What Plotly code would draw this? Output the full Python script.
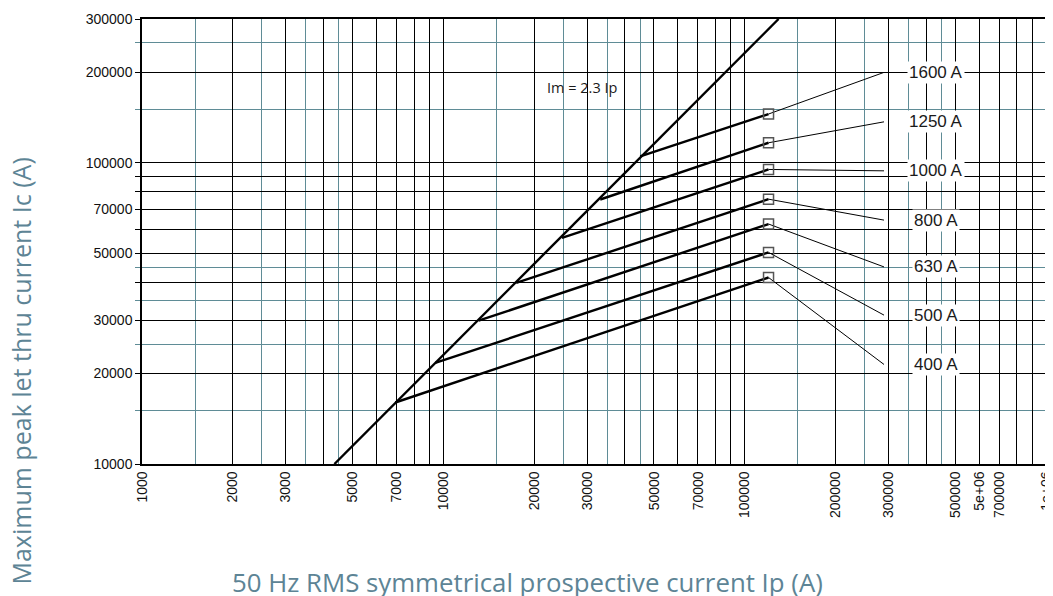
import plotly.graph_objects as go
import math

# ---- data ----
ratings = ["400 A", "500 A", "630 A", "800 A", "1000 A", "1250 A", "1600 A"]
knee_ip = [6925, 9400, 13090, 17450, 24750, 33160, 45010]
knee_ic = [16000, 21650, 29900, 39900, 56300, 75500, 105000]
end_ip = [120000, 120000, 120000, 120000, 120000, 120000, 120000]
end_ic = [41600, 50400, 62600, 75700, 95000, 116500, 145100]
label_ip = [290000, 290000, 290000, 290000, 290000, 290000, 290000]
label_ic = [21400, 31200, 45100, 64500, 94000, 136700, 199500]

diag_ip = [4350, 129600]
diag_ic = [10000, 300000]
diag_label = "Im = 2.3 Ip"

x_major = [1000, 2000, 3000, 4000, 5000, 6000, 7000, 8000, 9000,
           10000, 20000, 30000, 40000, 50000, 60000, 70000, 80000, 90000,
           100000, 200000, 300000, 400000, 500000, 600000, 700000, 800000, 900000, 1000000]
x_text = ["1000", "2000", "3000", "", "5000", "", "7000", "", "",
          "10000", "20000", "30000", "", "50000", "", "70000", "", "",
          "100000", "200000", "300000", "", "500000", "5e+06", "700000", "", "", "1e+06"]
x_minor = [1500, 2500, 3500, 4500, 15000, 25000, 35000, 45000,
           150000, 250000, 350000, 450000]

y_major = [10000, 20000, 30000, 40000, 50000, 60000, 70000, 80000, 90000,
           100000, 200000, 300000]
y_text = ["10000", "20000", "30000", "", "50000", "", "70000", "", "",
          "100000", "200000", "300000"]
y_minor = [15000, 25000, 35000, 45000, 150000, 250000]

x_title = "50 Hz RMS symmetrical prospective current Ip (A)"
y_title = "Maximum peak let thru current Ic (A)"

TEAL = "#5f8c96"
TITLE_C = "#5d8495"

fig = go.Figure()

# diagonal
fig.add_trace(go.Scatter(x=diag_ip, y=diag_ic, mode="lines",
                         line=dict(color="black", width=2.4), hoverinfo="skip"))

for i, r in enumerate(ratings):
    fig.add_trace(go.Scatter(x=[knee_ip[i], end_ip[i]], y=[knee_ic[i], end_ic[i]],
                             mode="lines", line=dict(color="black", width=2.4),
                             hoverinfo="skip"))
    fig.add_trace(go.Scatter(x=[end_ip[i], label_ip[i]], y=[end_ic[i], label_ic[i]],
                             mode="lines", line=dict(color="black", width=1),
                             hoverinfo="skip"))

fig.add_trace(go.Scatter(x=end_ip, y=end_ic, mode="markers",
                         marker=dict(symbol="square-open", size=10,
                                     color="#555555", line=dict(width=1.5)),
                         hoverinfo="skip"))

annotations = []
for i, r in enumerate(ratings):
    annotations.append(dict(
        x=math.log10(label_ip[i]) + 0.173, y=math.log10(label_ic[i]),
        xref="x", yref="y", text=r, showarrow=False,
        font=dict(family="Liberation Sans, Arial", size=17, color="#1a1a1a"),
        bgcolor="white", borderpad=1, xanchor="center", yanchor="middle"))

annotations.append(dict(
    x=math.log10(25000) + 0.065, y=math.log10(178000), xref="x", yref="y",
    text=diag_label, showarrow=False,
    font=dict(family="Open Sans, Liberation Sans", size=14.5, color="#1a1a1a"),
    xanchor="center", yanchor="middle"))

annotations.append(dict(
    x=0.426, y=-0.266, xref="paper", yref="paper", text=x_title, showarrow=False,
    font=dict(family="Open Sans", size=25.8, color=TITLE_C),
    xanchor="center", yanchor="middle"))
annotations.append(dict(
    x=-0.1335, y=0.2085, xref="paper", yref="paper", text=y_title, showarrow=False,
    textangle=-90,
    font=dict(family="Open Sans", size=25, color=TITLE_C),
    xanchor="center", yanchor="middle"))

fig.update_layout(
    width=1047, height=588,
    margin=dict(l=134, r=9, t=11, b=132, autoexpand=False),
    paper_bgcolor="white", plot_bgcolor="white",
    showlegend=False,
    annotations=annotations,
    xaxis=dict(type="log", range=[3, 6],
               tickmode="array", tickvals=x_major, ticktext=x_text,
               tickangle=-90, tickfont=dict(family="Liberation Sans, Arial", size=14, color="#111"),
               ticklabeloverflow="allow",
               showgrid=True, gridcolor="black", gridwidth=1.2,
               ticks="",
               minor=dict(tickmode="array", tickvals=x_minor, showgrid=True,
                          gridcolor=TEAL, gridwidth=1.2, ticks=""),
               showline=True, linecolor="black", linewidth=1.5, mirror=True,
               zeroline=False),
    yaxis=dict(type="log", range=[4, math.log10(300000)],
               tickmode="array", tickvals=y_major, ticktext=y_text,
               tickfont=dict(family="Liberation Sans, Arial", size=14, color="#111"),
               showgrid=True, gridcolor="black", gridwidth=1.2,
               ticks="outside", ticklen=5, tickcolor="black",
               minor=dict(tickmode="array", tickvals=y_minor, showgrid=True,
                          gridcolor=TEAL, gridwidth=1.2, ticks="outside",
                          ticklen=5, tickcolor=TEAL),
               showline=True, linecolor="black", linewidth=1.5, mirror=True,
               zeroline=False),
)

fig.write_html("out.html")
